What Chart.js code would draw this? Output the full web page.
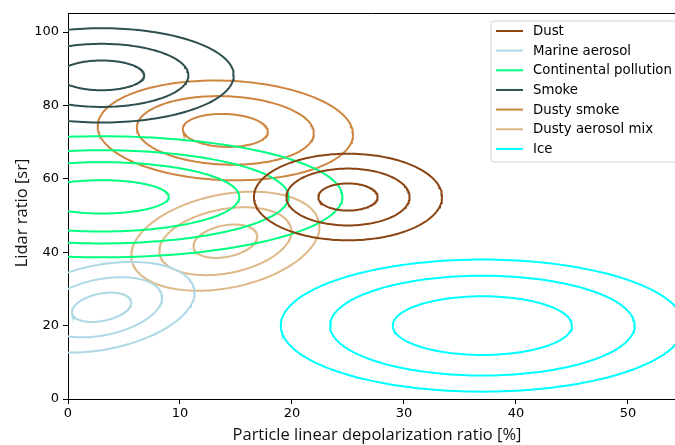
<!DOCTYPE html>
<html>
<head>
<meta charset="utf-8">
<script src="https://cdn.jsdelivr.net/npm/chart.js@4"></script>
<style>
  body { margin: 0; background: #fff; }
  canvas { display: block; }
</style>
</head>
<body>
<canvas id="c" width="675" height="445"></canvas>
<script>
// Aerosol types, one group of concentric ellipses each
const types = ['Dust', 'Marine aerosol', 'Continental pollution', 'Smoke', 'Dusty smoke', 'Dusty aerosol mix', 'Ice'];
const colors = ['#8b4513', '#add8e6', '#00ff7f', '#2f4f4f', '#cd853f', '#deb887', '#00ffff'];
const centerX = [25, 3, 3, 3, 14.05, 14.05, 37];
const centerY = [55.05, 25, 55.1, 88.2, 73.2, 43, 20];
// half-widths / half-heights of each ring (data units)
const radiusX = [[2.65, 5.5, 8.4], [2.65, 5.4, 8.3], [6, 12.3, 16.7, 21.5], [3.8, 7.75, 11.8], [3.8, 7.9, 11.4], [2.85, 5.9, 8.4], [8, 13.6, 18]];
const radiusY = [[3.7, 7.75, 11.8], [4.0, 8.2, 12.35], [4.55, 9.45, 12.7, 16.5], [4.05, 8.6, 12.85], [4.5, 9.35, 13.6], [4.55, 9.25, 13.5], [8, 13.6, 18]];
const correlation = [0, 0.32, 0, 0, -0.08, 0.29, 0];
const xTicks = [0, 10, 20, 30, 40, 50];
const yTicks = [0, 20, 40, 60, 80, 100];
const xTitle = 'Particle linear depolarization ratio [%]';
const yTitle = 'Lidar ratio [sr]';

// Utility: outline of one ring
function ellipse(cx, cy, rx, ry, rho) {
  const pts = [];
  const n = 180;
  const s = Math.sqrt(1 - rho * rho);
  for (let i = 0; i <= n; i++) {
    const t = (i / n) * Math.PI * 2;
    pts.push({ x: cx + rx * Math.cos(t), y: cy + ry * (rho * Math.cos(t) + s * Math.sin(t)) });
  }
  return pts;
}

const datasets = [];
types.forEach((name, i) => {
  radiusX[i].forEach((rx, j) => {
    datasets.push({
      label: name,
      data: ellipse(centerX[i], centerY[i], rx, radiusY[i][j], correlation[i]),
      showLine: true,
      borderColor: colors[i],
      backgroundColor: colors[i],
      borderWidth: 2,
      pointRadius: 0,
      fill: false,
      tension: 0
    });
  });
});

// Top spine, axis titles and framed legend, matplotlib style
const frame = {
  id: 'frame',
  afterDraw(chart) {
    const { ctx, chartArea } = chart;
    ctx.save();
    ctx.strokeStyle = '#000';
    ctx.lineWidth = 1;
    ctx.beginPath();
    ctx.moveTo(chartArea.left, chartArea.top + 0.5);
    ctx.lineTo(chartArea.right, chartArea.top + 0.5);
    ctx.stroke();

    // axis titles (the source figure is cropped on the right, so x title sits off-centre)
    ctx.fillStyle = '#111';
    ctx.font = '16.5px "Open Sans"';
    ctx.textAlign = 'center';
    ctx.textBaseline = 'alphabetic';
    ctx.fillText(xTitle, 377, 440);
    ctx.save();
    ctx.translate(27, 213);
    ctx.rotate(-Math.PI / 2);
    ctx.fillText(yTitle, 0, 0);
    ctx.restore();

    ctx.textAlign = 'left';
    ctx.fillStyle = 'rgba(255,255,255,0.85)';
    ctx.strokeStyle = '#d0d0d0';
    ctx.beginPath();
    ctx.roundRect(491, 21, 200, 141, 3);
    ctx.fill();
    ctx.stroke();

    ctx.font = '13.3px "DejaVu Sans"';
    ctx.textBaseline = 'middle';
    types.forEach((name, i) => {
      const y = 31 + i * 19.65;
      ctx.strokeStyle = colors[i];
      ctx.lineWidth = 2;
      ctx.beginPath();
      ctx.moveTo(496, y);
      ctx.lineTo(523, y);
      ctx.stroke();
      ctx.fillStyle = '#000';
      ctx.fillText(name, 533, y + 0.5);
    });
    ctx.restore();
  }
};

new Chart(document.getElementById('c'), {
  type: 'scatter',
  data: { datasets },
  options: {
    responsive: false,
    animation: false,
    layout: { padding: { top: 13, right: 0, left: 0, bottom: 0 } },
    plugins: { legend: { display: false }, tooltip: { enabled: false } },
    scales: {
      x: {
        min: 0, max: 54.2,
        afterFit: s => { s.height = 46; },
        afterBuildTicks: s => { s.ticks = xTicks.map(v => ({ value: v })); },
        grid: { display: true, drawOnChartArea: false, tickLength: 5, color: '#000' },
        border: { color: '#000', width: 1 },
        ticks: { color: '#000', padding: 2, font: { family: 'DejaVu Sans', size: 13 } }
      },
      y: {
        min: 0, max: 105.2,
        afterFit: s => { s.width = 68; },
        afterBuildTicks: s => { s.ticks = yTicks.map(v => ({ value: v })); },
        grid: { display: true, drawOnChartArea: false, tickLength: 5, color: '#000' },
        border: { color: '#000', width: 1 },
        ticks: { color: '#000', padding: 4, font: { family: 'DejaVu Sans', size: 13 } }
      }
    }
  },
  plugins: [frame]
});
</script>
</body>
</html>
